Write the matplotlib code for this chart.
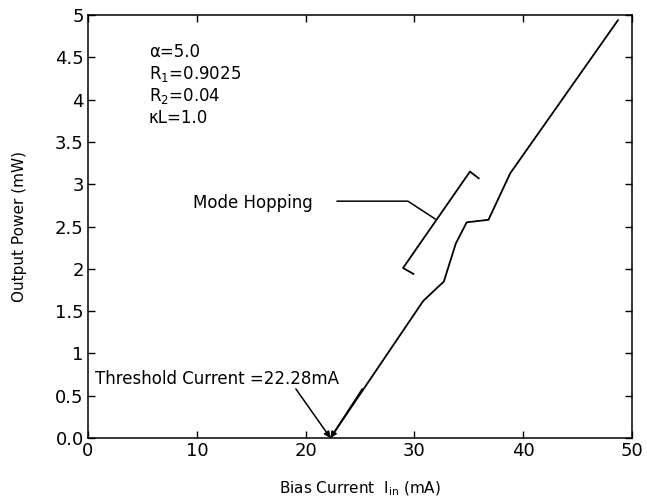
import numpy as np
import matplotlib
matplotlib.use("Agg")
import matplotlib.pyplot as plt

# Data
bias_main = [22.28, 30.8, 32.7, 33.8, 34.8, 36.8, 38.8, 48.7]
power_main = [0.0, 1.62, 1.85, 2.30, 2.55, 2.58, 3.13, 4.94]

bias_hop = [29.9, 28.95, 35.1, 35.9]
power_hop = [1.94, 2.01, 3.15, 3.07]

x_ticks = [0, 10, 20, 30, 40, 50]
y_ticks = [0, 0.5, 1, 1.5, 2, 2.5, 3, 3.5, 4, 4.5, 5]
y_ticklabels = ["0.0", "0.5", "1", "1.5", "2", "2.5", "3", "3.5", "4", "4.5", "5"]

params = ["α=5.0", r"R$_\mathregular{1}$=0.9025", r"R$_\mathregular{2}$=0.04", "κL=1.0"]
threshold = 22.28

fig = plt.figure(figsize=(6.47, 5.04), dpi=100)
ax = fig.add_axes([0.136, 0.131, 0.841, 0.839])

ax.plot(bias_main, power_main, color="black", lw=1.3)
ax.plot(bias_hop, power_hop, color="black", lw=1.3)

ax.set_xlim(0, 50)
ax.set_ylim(0, 5)
ax.set_xticks(x_ticks)
ax.set_yticks(y_ticks)
ax.set_yticklabels(y_ticklabels)
ax.tick_params(direction="in", top=True, right=True, length=5, width=1,
               labelsize=13, pad=3)
for sp in ax.spines.values():
    sp.set_linewidth(1.1)

ax.set_xlabel(r"Bias Current  I$_\mathregular{in}$ (mA)", fontsize=11, labelpad=14)
ax.set_ylabel("Output Power (mW)", fontsize=11, labelpad=20)

# parameter block
for i, t in enumerate(params):
    ax.text(5.6, 4.56 - i * 0.26, t, fontsize=12, va="center", ha="left")

# mode hopping annotation
ax.plot([22.9, 29.4, 31.9], [2.8, 2.8, 2.59], color="black", lw=1.1)
ax.text(9.65, 2.78, "Mode Hopping", fontsize=12, va="center", ha="left")

# threshold annotation
ax.text(11.9, 0.70, "Threshold Current =22.28mA", fontsize=12,
        va="center", ha="center")
for xs in (19.1, 25.2):
    ax.annotate("", xy=(threshold, 0), xytext=(xs, 0.58),
                arrowprops=dict(arrowstyle="-|>", color="black", lw=1.1,
                                mutation_scale=9, shrinkA=0, shrinkB=0))

fig.savefig("out.png", dpi=100)
